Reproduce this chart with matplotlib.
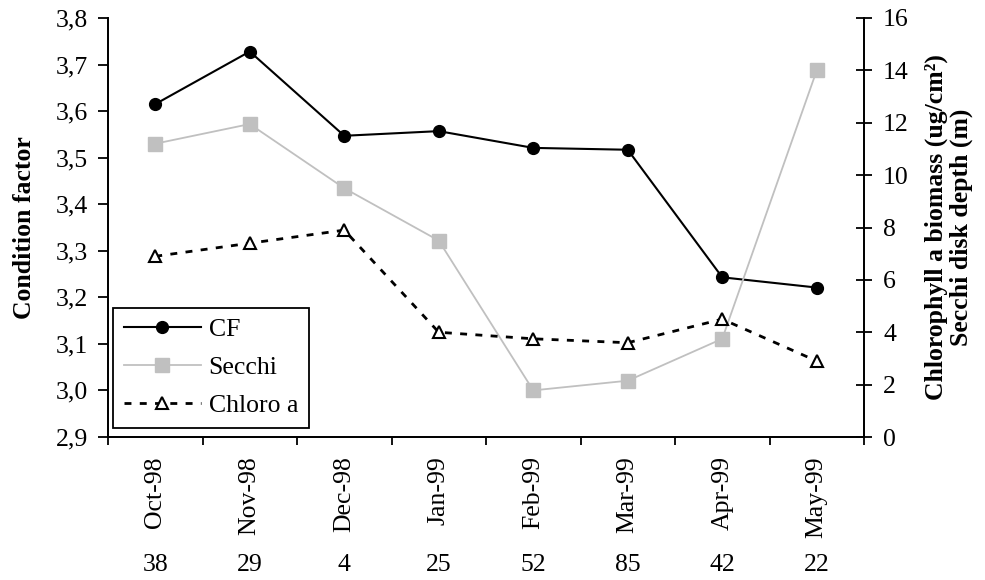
import matplotlib
matplotlib.use('Agg')
import matplotlib.pyplot as plt
import matplotlib.transforms as mtransforms

plt.rcParams['font.family'] = ['Liberation Serif', 'DejaVu Serif']

# dati
months = ['Oct-98', 'Nov-98', 'Dec-98', 'Jan-99', 'Feb-99', 'Mar-99', 'Apr-99', 'May-99']
counts = ['38', '29', '4', '25', '52', '85', '42', '22']
cf = [3.615, 3.728, 3.547, 3.557, 3.521, 3.517, 3.243, 3.221]
secchi = [11.2, 11.95, 9.5, 7.5, 1.78, 2.15, 3.75, 14.0]
chloro = [6.9, 7.4, 7.9, 4.0, 3.75, 3.6, 4.5, 2.9]

left_ticks = [2.9, 3.0, 3.1, 3.2, 3.3, 3.4, 3.5, 3.6, 3.7, 3.8]
right_ticks = [0, 2, 4, 6, 8, 10, 12, 14, 16]

FS = 18.5
x = list(range(len(months)))

fig = plt.figure(figsize=(9.85, 5.8), dpi=100)
ax = fig.add_axes([108 / 985, 1 - 437 / 580, 756 / 985, 419 / 580])
ax2 = ax.twinx()

l_cf, = ax.plot(x, cf, color='black', lw=1.5, marker='o', ms=8.5, label='CF')
l_se, = ax2.plot(x, secchi, color='#c0c0c0', lw=1.3, marker='s', ms=9.5, label='Secchi')
l_ch, = ax2.plot(x, chloro, color='black', lw=2, ls=(0, (2.5, 3)), marker='^', ms=9,
                 mfc='white', mec='black', mew=1.5, label='Chloro a')

ax.set_xlim(-0.5, len(months) - 0.5)
ax.set_ylim(2.9, 3.8)
ax2.set_ylim(0, 16)

# tick asse x ai bordi delle categorie, etichette al centro
ax.set_xticks([i - 0.5 for i in range(len(months) + 1)])
ax.set_xticklabels([])
ax.set_xticks(x, minor=True)
ax.set_xticklabels(months, minor=True, rotation=90, fontsize=FS)
ax.tick_params(axis='x', which='major', direction='out', length=6, width=1.3)
ax.tick_params(axis='x', which='minor', length=0, pad=14)

ax.set_yticks(left_ticks)
ax.set_yticklabels([f'{v:.1f}'.replace('.', ',') for v in left_ticks], fontsize=FS)
ax.tick_params(axis='y', direction='out', length=7.5, width=1.3, pad=7)

ax2.set_yticks(right_ticks)
ax2.set_yticklabels([str(v) for v in right_ticks], fontsize=FS)
ax2.tick_params(axis='y', direction='inout', length=11.5, width=1.3, pad=8)

for a in (ax, ax2):
    a.spines['top'].set_visible(False)
    for s in ('left', 'right', 'bottom'):
        a.spines[s].set_linewidth(1.3)

ax.set_ylabel('Condition factor', fontsize=FS, fontweight='bold')
ax.yaxis.set_label_coords(-0.095, 0.5)
ax2.set_ylabel('Chlorophyll a biomass (ug/cm²)\nSecchi disk depth (m)', fontsize=FS,
               fontweight='bold', linespacing=1.08)
ax2.yaxis.set_label_coords(1.08, 0.5)

# numeri sotto le etichette dei mesi
trans = mtransforms.blended_transform_factory(ax.transData, fig.transFigure)
for xi, c in zip(x, counts):
    ax.text(xi, 0.026, c, transform=trans, ha='center', va='center', fontsize=FS)

leg = ax2.legend(handles=[l_cf, l_se, l_ch], loc='lower left',
                 bbox_to_anchor=(0.0066, 0.0215), borderaxespad=0, fontsize=FS,
                 frameon=True, fancybox=False, framealpha=1, edgecolor='black',
                 handlelength=3.0, handletextpad=0.3, labelspacing=0.58,
                 borderpad=0.42)
leg.get_frame().set_linewidth(1.3)

fig.savefig('out.png', dpi=100)
